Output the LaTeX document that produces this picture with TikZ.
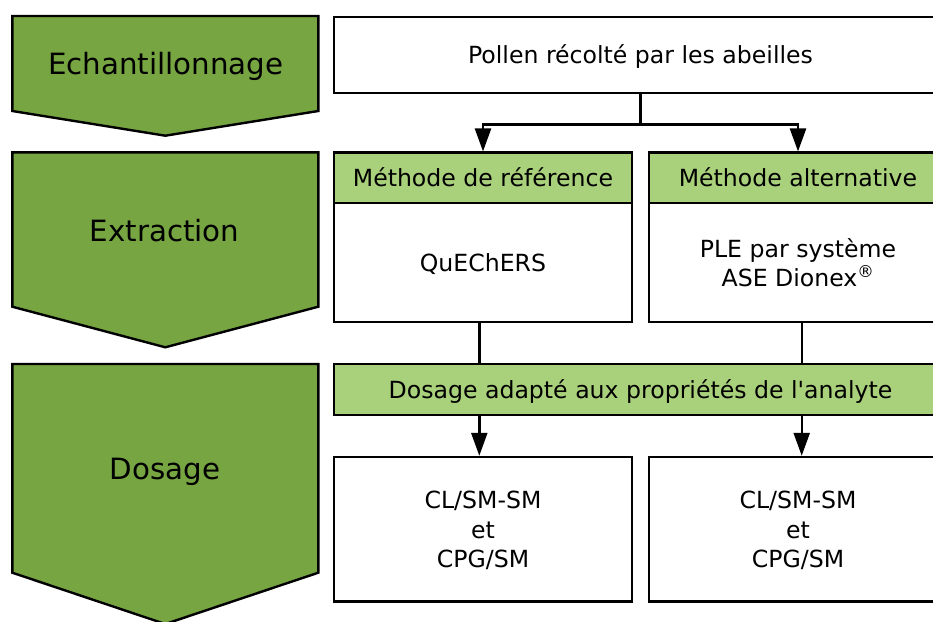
\documentclass[tikz,border=0pt]{standalone}
\usepackage{fontspec}
\setmainfont{DejaVu Sans}
\usetikzlibrary{arrows.meta,calc}
\definecolor{darkgreen}{RGB}{118,165,66}
\definecolor{lightgreen}{RGB}{169,208,122}
\tikzset{
  boxtext/.style={font=\fontsize{23.6pt}{29.5pt}\selectfont},
  box/.style={draw=black, line width=2.4pt, fill=white, boxtext, align=center, inner sep=0pt},
  oneline/.style={text height=17.2pt, text depth=0pt},
  headbox/.style={box, fill=lightgreen, oneline},
  chev/.style={draw=black, line width=2.4pt, fill=darkgreen, line join=miter},
  chevtext/.style={font=\fontsize{29.3pt}{35pt}\selectfont, inner sep=0pt, text height=21.4pt, text depth=0pt},
  conn/.style={draw=black, line width=2.4pt},
  arr/.style={conn, -{Triangle[length=23pt,width=16pt]}},
}
\begin{document}
\begin{tikzpicture}[x=1pt,y=-1pt]
\useasboundingbox (0,0) rectangle (933,621);
\fill[white] (0,0) rectangle (933,621);
\clip (0,0) rectangle (933,621);

% left chevrons
\draw[chev] (12.3,16) -- (318.3,16) -- (318.3,111) -- (165.3,135.7) -- (12.3,111) -- cycle;
\draw[chev] (12.3,152.3) -- (318.3,152.3) -- (318.3,306.7) -- (165.3,347.3) -- (12.3,306.7) -- cycle;
\draw[chev] (12.3,364) -- (318.3,364) -- (318.3,572.7) -- (165.3,624) -- (12.3,572.7) -- cycle;
\node[chevtext] (s1) at (165.8,64) {Echantillonnage};
\node[chevtext] (s2) at (164.5,230.8) {Extraction};
\node[chevtext] (s3) at (165,469) {Dosage};

% boxes
\node[box, oneline, minimum width=613pt, minimum height=76pt] (top) at (640.5,54.7) {Pollen récolté par les abeilles};
\node[headbox, minimum width=298pt, minimum height=50.3pt] (h1) at (483,177.8) {Méthode de référence};
\node[headbox, minimum width=298pt, minimum height=50.3pt] (h2) at (798,177.8) {Méthode alternative};
\node[box, oneline, minimum width=298pt, minimum height=118.7pt] (b1) at (483,262.4) {QuEChERS};
\node[box, minimum width=298pt, minimum height=118.7pt, text height=48.6pt, text depth=0pt] (b2) at (798,262.4) {PLE par système\\ASE Dionex\textsuperscript{®}};
\node[headbox, minimum width=613pt, minimum height=50.7pt] (bar) at (640.5,389.6) {Dosage adapté aux propriétés de l\textquotesingle analyte};
\node[box, minimum width=298pt, minimum height=144.7pt, text height=77pt, text depth=0pt] (r1) at (483,529.3) {CL/SM-SM\\et\\CPG/SM};
\node[box, minimum width=298pt, minimum height=144.7pt, text height=77pt, text depth=0pt] (r2) at (798,529.3) {CL/SM-SM\\et\\CPG/SM};

% connectors
\coordinate (split) at ($(top.south)+(0,30.6)$);
\draw[arr] (top.south) -- (split) -| (h1.north);
\draw[arr] (split) -| (h2.north);
\coordinate (c1) at ($(b1.south)+(-3.7,0)$);
\coordinate (c2) at ($(b2.south)+(3.7,0)$);
\draw[conn] (c1) -- (c1 |- bar.north);
\draw[conn] (c2) -- (c2 |- bar.north);
\draw[arr] (c1 |- bar.south) -- (c1 |- r1.north);
\draw[arr] (c2 |- bar.south) -- (c2 |- r2.north);
\end{tikzpicture}
\end{document}
